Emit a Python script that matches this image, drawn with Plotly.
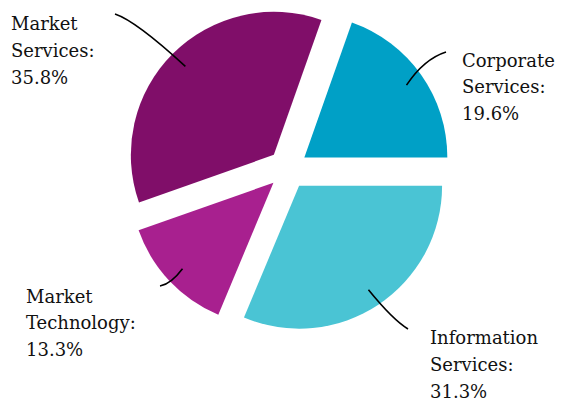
import math
import plotly.graph_objects as go

# ---- data ----
categories = ["Corporate Services", "Information Services", "Market Technology", "Market Services"]
shares = [19.6, 31.3, 13.3, 35.8]
colors = ["#00A0C6", "#4AC4D4", "#A8208F", "#800E69"]

# ---- layout geometry (pixels) ----
W, H = 563, 407
CX, CY = 288, 169      # pie centre
R = 143                # slice radius
PULL = 0.14            # explode fraction
FSIZE = 18
FONT = dict(family="DejaVu Serif", size=FSIZE, color="#111111")
LINE_GAP = 26.7

# label placement: (text left x, first baseline y), leader end and bezier control
label_pos = {
    "Corporate Services": ((460, 66.5), (446, 52), (424, 59)),
    "Information Services": ((428, 344), (408, 329), (393, 320)),
    "Market Technology": ((24, 302.5), (160, 286), (171, 284)),
    "Market Services": ((9, 30), (115, 14), (136, 21)),
}


def paper(x, y):
    return x / W, 1 - y / H


total = sum(shares)
rotation = 90 - 360 * shares[0] / total  # boundary of first slice ends at 3 o'clock
span = R * (1 + PULL)
dx0, dy0 = paper(CX - span, CY + span)
dx1, dy1 = paper(CX + span, CY - span)

fig = go.Figure(go.Pie(
    labels=categories,
    values=shares,
    sort=False,
    direction="clockwise",
    rotation=rotation,
    pull=[PULL] * len(shares),
    marker=dict(colors=colors, line=dict(width=0)),
    textinfo="none",
    hoverinfo="skip",
    showlegend=False,
    domain=dict(x=[dx0, dx1], y=[dy0, dy1]),
))

annotations = []
shapes = []
cum = rotation
for cat, val in zip(categories, shares):
    ang = val / total * 360
    mid = math.radians(cum + ang / 2)
    cum += ang
    ux, uy = math.sin(mid), -math.cos(mid)
    pcx, pcy = CX + PULL * R * ux, CY + PULL * R * uy
    sx, sy = pcx + 0.875 * R * ux, pcy + 0.875 * R * uy
    (tx, ty), (ex, ey), (qx, qy) = label_pos[cat]
    p0 = paper(sx, sy)
    pq = paper(qx, qy)
    p1 = paper(ex, ey)
    shapes.append(dict(
        type="path", xref="paper", yref="paper",
        path=f"M {p0[0]},{p0[1]} Q {pq[0]},{pq[1]} {p1[0]},{p1[1]}",
        line=dict(color="black", width=1.6),
    ))
    words = cat.split(" ")
    lines = words[:-1] + [words[-1] + ":", f"{val}%"]
    for k, txt in enumerate(lines):
        bx, by = paper(tx, ty + k * LINE_GAP - 0.346 * FSIZE)
        annotations.append(dict(
            x=bx, y=by, xref="paper", yref="paper", text=txt,
            showarrow=False, xanchor="left", yanchor="middle",
            font=FONT,
        ))

fig.update_layout(
    width=W, height=H,
    margin=dict(l=0, r=0, t=0, b=0),
    paper_bgcolor="white",
    plot_bgcolor="white",
    font=FONT,
    annotations=annotations,
    shapes=shapes,
)

fig.write_html("out.html")
